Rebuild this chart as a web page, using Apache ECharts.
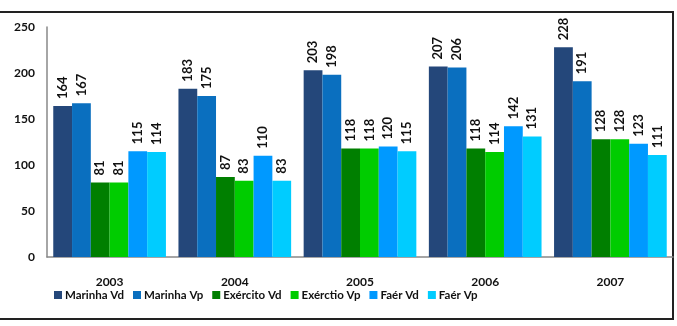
<!DOCTYPE html>
<html>
<head>
<meta charset="utf-8">
<script src="https://cdn.jsdelivr.net/npm/echarts@6/dist/echarts.min.js"></script>
<style>
  html, body { margin: 0; padding: 0; background: #fff; }
  #main { width: 677px; height: 326px; }
</style>
</head>
<body>
<div id="main"></div>
<script>
// dados
const anos = ['2003', '2004', '2005', '2006', '2007'];
const marinhaVd = [164, 183, 203, 207, 228];
const marinhaVp = [167, 175, 198, 206, 191];
const exercitoVd = [81, 87, 118, 118, 128];
const exercitoVp = [81, 83, 118, 114, 128];
const faerVd = [115, 110, 120, 142, 123];
const faerVp = [114, 83, 115, 131, 111];
const nomes = ['Marinha Vd', 'Marinha Vp', 'Exército Vd', 'Exérctio Vp', 'Faér Vd', 'Faér Vp'];
const cores = ['#24477A', '#0A6FBF', '#007F00', '#00CC00', '#0099FF', '#00CCFF'];
const yTicks = [0, 50, 100, 150, 200, 250];

const fonte = 'Lato, "Open Sans", sans-serif';

let chart = echarts.init(document.getElementById('main'));

function serie(nome, dados) {
    return {
        name: nome,
        type: 'bar',
        data: dados,
        barGap: '0%',
        barCategoryGap: '10%',
        label: {
            show: true,
            position: 'top',
            rotate: 90,
            align: 'left',
            verticalAlign: 'middle',
            distance: 7,
            color: '#111',
            fontWeight: 'bold',
            fontSize: 13,
            fontFamily: fonte
        }
    };
}

const series = [
    serie(nomes[0], marinhaVd),
    serie(nomes[1], marinhaVp),
    serie(nomes[2], exercitoVd),
    serie(nomes[3], exercitoVp),
    serie(nomes[4], faerVd),
    serie(nomes[5], faerVp)
];

option = {
    animation: false,
    color: cores,
    grid: { left: 47, right: 4, top: 27, bottom: 69 },
    legend: {
        data: nomes,
        bottom: 20,
        left: 49,
        itemWidth: 8,
        itemHeight: 8,
        itemGap: 9,
        icon: 'rect',
        textStyle: { fontFamily: fonte, fontWeight: 'bold', fontSize: 11.5, color: '#111', padding: [0, 0, 0, -2] }
    },
    xAxis: {
        type: 'category',
        data: anos,
        axisLine: { lineStyle: { color: '#888', width: 1.5 } },
        axisTick: { show: false },
        axisLabel: { fontFamily: fonte, fontWeight: 'bold', fontSize: 12, color: '#111', margin: 19 }
    },
    yAxis: {
        type: 'value',
        min: yTicks[0],
        max: yTicks[yTicks.length - 1],
        interval: 50,
        axisLine: { show: true, lineStyle: { color: '#888', width: 1.5 } },
        axisTick: { show: false },
        splitLine: { show: false },
        axisLabel: { fontFamily: fonte, fontWeight: 'bold', fontSize: 12, color: '#111', margin: 12 }
    },
    graphic: [{
        type: 'rect',
        shape: { x: -5, y: 12, width: 678, height: 307 },
        style: { fill: 'none', stroke: '#222', lineWidth: 2 },
        silent: true
    }],
    series: series
};

chart.setOption(option);
</script>
</body>
</html>
